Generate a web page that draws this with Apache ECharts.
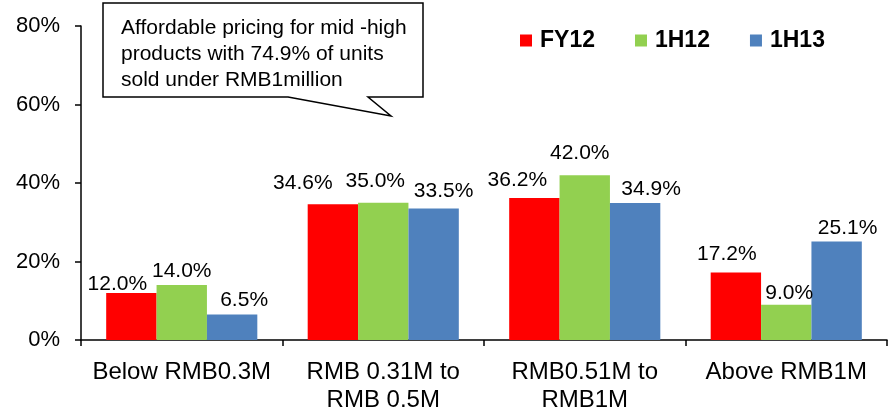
<!DOCTYPE html>
<html>
<head>
<meta charset="utf-8">
<script src="https://cdn.jsdelivr.net/npm/echarts@6/dist/echarts.min.js"></script>
<style>
  html, body { margin: 0; padding: 0; background: #fff; }
  #chart { width: 889px; height: 409px; }
</style>
</head>
<body>
<div id="chart"></div>
<script>
// Share of units sold by price band
const categories = ['Below RMB0.3M', 'RMB 0.31M to\nRMB 0.5M', 'RMB0.51M to\nRMB1M', 'Above RMB1M'];
const seriesNames = ['FY12', '1H12', '1H13'];
const fy12 = [12.0, 34.6, 36.2, 17.2];
const h112 = [14.0, 35.0, 42.0, 9.0];
const h113 = [6.5, 33.5, 34.9, 25.1];
const yTicks = [0, 20, 40, 60, 80];
const calloutLines = ['Affordable pricing for mid -high', 'products with 74.9% of units', 'sold under RMB1million'];

const colors = ['#FF0000', '#92D050', '#4F81BD'];
const font = "'Liberation Sans', Arial, Helvetica, sans-serif";

// hand-placed nudges for the value labels, [dx, dy] in pixels
const labelNudge = [
  [[-14, 5], [-30, -7], [-17, -4], [-9, -5]],
  [[0, 0], [-8, -8], [-5, -8], [3, 2]],
  [[12, -1], [10, -4], [16, 0], [11, 0]]
];

const values = [fy12, h112, h113];

const series = seriesNames.map((name, s) => ({
  name: name,
  type: 'bar',
  barGap: '0%',
  barCategoryGap: '25%',
  itemStyle: { color: colors[s] },
  label: {
    show: true,
    position: 'top',
    distance: 3,
    color: '#000',
    fontFamily: font,
    fontSize: 21,
    formatter: p => p.value.toFixed(1) + '%'
  },
  data: values[s].map((v, i) => ({ value: v, label: { offset: labelNudge[s][i] } }))
}));

const chart = echarts.init(document.getElementById('chart'), null, { renderer: 'canvas' });
chart.setOption({
  animation: false,
  backgroundColor: '#fff',
  textStyle: { fontFamily: font },
  grid: { left: 81, right: 2, top: 26, bottom: 69, containLabel: false, outerBoundsMode: 'none' },
  legend: {
    data: seriesNames,
    left: 515,
    top: 24,
    icon: 'rect',
    itemWidth: 12,
    itemHeight: 12,
    itemGap: 40,
    textStyle: { fontFamily: font, fontSize: 23, fontWeight: 'bold', color: '#000', padding: [0, 0, 0, 3] }
  },
  xAxis: {
    type: 'category',
    data: categories,
    axisLine: { lineStyle: { color: '#000', width: 1.5 } },
    axisTick: { show: true, length: 6, lineStyle: { color: '#000', width: 1.5 } },
    axisLabel: { color: '#000', fontFamily: font, fontSize: 24, lineHeight: 28, margin: 18, interval: 0 }
  },
  yAxis: {
    type: 'value',
    min: yTicks[0],
    max: yTicks[yTicks.length - 1],
    interval: yTicks[1] - yTicks[0],
    axisLine: { show: true, lineStyle: { color: '#000', width: 1.5 } },
    axisTick: { show: true, length: 6, lineStyle: { color: '#000', width: 1.5 } },
    splitLine: { show: false },
    axisLabel: { color: '#000', fontFamily: font, fontSize: 22, margin: 21, formatter: '{value}%' }
  },
  graphic: [
    {
      type: 'polygon',
      shape: { points: [[103, 3], [423, 3], [423, 97], [368, 97], [391, 116], [288, 97], [103, 97]] },
      style: { fill: '#fff', stroke: '#000', lineWidth: 1.5 },
      z: 10
    },
    {
      type: 'text',
      left: 121,
      top: 15,
      style: {
        text: calloutLines.join('\n'),
        fontFamily: font,
        fontSize: 21,
        lineHeight: 26,
        fill: '#000'
      },
      z: 11
    }
  ],
  series: series
});
</script>
</body>
</html>
